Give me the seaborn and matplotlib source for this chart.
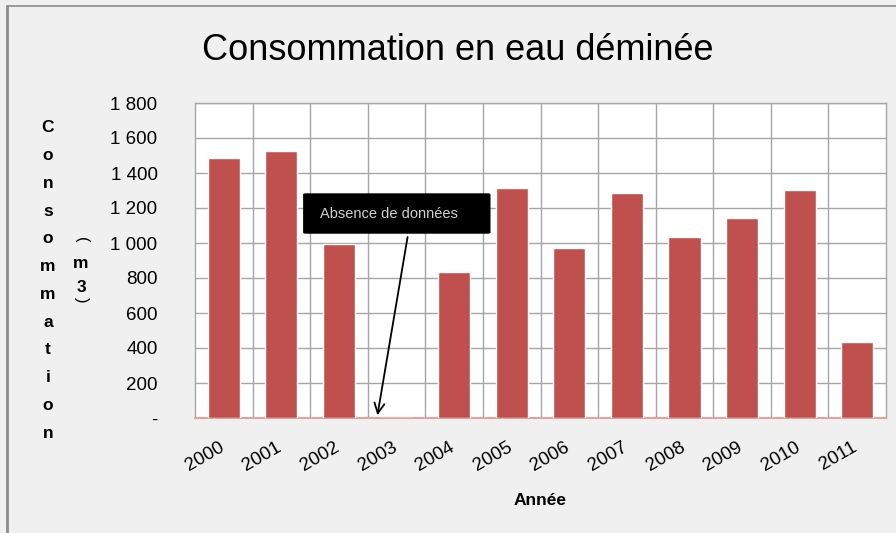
import matplotlib
matplotlib.use("Agg")
import matplotlib.pyplot as plt
import matplotlib.transforms as mtransforms
import seaborn as sns
import pandas as pd
from matplotlib.lines import Line2D
from matplotlib.patches import FancyBboxPatch

years = ["2000", "2001", "2002", "2003", "2004", "2005", "2006", "2007", "2008", "2009", "2010", "2011"]
values = [1486, 1526, 994, 0, 834, 1314, 971, 1286, 1034, 1143, 1303, 434]
yticks = [0, 200, 400, 600, 800, 1000, 1200, 1400, 1600, 1800]
ytick_labels = ["-", "200", "400", "600", "800", "1 000", "1 200", "1 400", "1 600", "1 800"]

sns.set_style("white")
plt.rcParams["font.family"] = ["Liberation Sans", "DejaVu Sans"]
plt.rcParams["text.color"] = "black"
plt.rcParams["axes.labelcolor"] = "black"
plt.rcParams["xtick.color"] = "black"
plt.rcParams["ytick.color"] = "black"

W, H = 896, 533
fig = plt.figure(figsize=(W / 100, H / 100), dpi=100, facecolor="#f0f0f0")
ax = fig.add_axes([195 / W, 1 - 418 / H, (886 - 195) / W, (418 - 103) / H])
ax.set_facecolor("white")

df = pd.DataFrame({"year": years, "value": values})
sns.barplot(data=df, x="year", y="value", color="#c0504d", saturation=1, width=0.56, ax=ax, zorder=3)

ax.set_ylim(0, 1800)
ax.set_xlim(-0.5, len(years) - 0.5)
ax.set_yticks(yticks)
ax.set_yticklabels(ytick_labels, fontsize=13.5)
ax.set_xticks(range(len(years)))
ax.set_xticklabels(years, rotation=30, fontsize=13.5, ha="center")
ax.tick_params(axis="x", pad=15, length=0)
ax.tick_params(axis="y", pad=27, length=0)
for lbl in ax.get_yticklabels():
    lbl.set_horizontalalignment("right")
shift = mtransforms.ScaledTranslation(-19 / 100, 0, fig.dpi_scale_trans)
for lbl in ax.get_xticklabels():
    lbl.set_transform(lbl.get_transform() + shift)

# grid
for y in yticks[1:]:
    ax.axhline(y, color="#a6a6a6", lw=1, zorder=1)
for i in range(len(years) - 1):
    ax.axvline(i + 0.5, color="#a6a6a6", lw=1, zorder=1)
for s in ["left", "top", "right"]:
    ax.spines[s].set_color("#a6a6a6")
    ax.spines[s].set_linewidth(1)
ax.spines["bottom"].set_color("#e6a0a0")
ax.spines["bottom"].set_linewidth(1.5)

ax.set_xlabel("Année", fontsize=12.5, fontweight="bold", labelpad=13)
ax.set_ylabel("")

# title
fig.text(458 / W, 1 - 50 / H, "Consommation en eau déminée", fontsize=26, ha="center", va="center")

# vertical stacked y label
word = "Consommation"
for k, ch in enumerate(word):
    yy = 128 + k * (433 - 128) / (len(word) - 1)
    fig.text(48 / W, 1 - yy / H, ch, fontsize=12.5, fontweight="bold", ha="center", va="center")
fig.text(81 / W, 1 - 240 / H, "(", fontsize=12, rotation=-90, ha="center", va="center")
fig.text(81 / W, 1 - 264 / H, "m", fontsize=12.5, fontweight="bold", ha="center", va="center")
fig.text(81 / W, 1 - 288 / H, "3", fontsize=12.5, fontweight="bold", ha="center", va="center")
fig.text(81 / W, 1 - 300 / H, ")", fontsize=12, rotation=-90, ha="center", va="center")

# annotation
ax.add_patch(FancyBboxPatch((1.39, 1057), 3.23, 223, boxstyle="round,pad=0,rounding_size=0.04",
                            mutation_aspect=1800 / 12 * 0.6, facecolor="black", edgecolor="black",
                            zorder=5, clip_on=False))
ax.text(1.67, 1166, "Absence de données", fontsize=10.5, color="#d0d0d0", ha="left", va="center", zorder=7)
ax.annotate("", xy=(2.66, 0), xytext=(3.2, 1050),
            arrowprops=dict(arrowstyle="->", color="black", lw=1.3, mutation_scale=18), zorder=6)

# frame lines of the chart area
fig.add_artist(Line2D([7 / W, 7 / W], [0, 1 - 6 / H], color="#8c8c8c", lw=2))
fig.add_artist(Line2D([7 / W, 1], [1 - 6 / H, 1 - 6 / H], color="#8c8c8c", lw=1.2))

fig.savefig("out.png", dpi=100, facecolor=fig.get_facecolor())
